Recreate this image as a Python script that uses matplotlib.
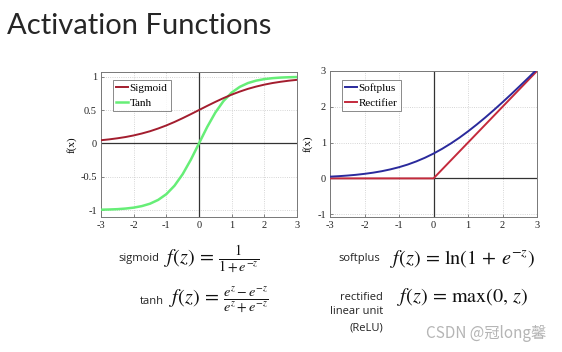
import matplotlib
matplotlib.use("Agg")
import matplotlib.pyplot as plt

W, H = 562, 352
DPI = 100

# ---- data ----
x_vals = [-3, -2.75, -2.5, -2.25, -2, -1.75, -1.5, -1.25, -1, -0.75, -0.5, -0.25,
          0, 0.25, 0.5, 0.75, 1, 1.25, 1.5, 1.75, 2, 2.25, 2.5, 2.75, 3]
sigmoid_vals = [0.047, 0.060, 0.076, 0.095, 0.119, 0.148, 0.182, 0.223, 0.269, 0.321,
                0.378, 0.438, 0.500, 0.562, 0.622, 0.679, 0.731, 0.777, 0.818, 0.852,
                0.881, 0.905, 0.924, 0.940, 0.953]
tanh_vals = [-0.995, -0.992, -0.987, -0.978, -0.964, -0.941, -0.905, -0.848, -0.762,
             -0.635, -0.462, -0.245, 0.0, 0.245, 0.462, 0.635, 0.762, 0.848, 0.905,
             0.941, 0.964, 0.978, 0.987, 0.992, 0.995]
softplus_vals = [0.049, 0.062, 0.079, 0.100, 0.127, 0.160, 0.201, 0.252, 0.313, 0.386,
                 0.474, 0.576, 0.693, 0.826, 0.974, 1.136, 1.313, 1.502, 1.701, 1.910,
                 2.127, 2.350, 2.579, 2.811, 3.049]
relu_x = [-3, 0, 3]
relu_vals = [0, 0, 3]

x_ticks = [-3, -2, -1, 0, 1, 2, 3]
left_yticks = [-1, -0.5, 0, 0.5, 1]
left_yticklabels = ["-1", "-0.5", "0", "0.5", "1"]
right_yticks = [-1, 0, 1, 2, 3]

title_text = "Activation Functions"
watermark = "CSDN @冠long馨"

# ---- figure ----
fig = plt.figure(figsize=(W / DPI, H / DPI), dpi=DPI)
fig.patch.set_facecolor("white")
plt.rcParams["mathtext.fontset"] = "stix"

def fx(px):
    return px / W

def fy(py):
    return 1 - py / H

serif = "Liberation Serif"

def style_axes(ax, xlim, ylim, yticks, yticklabels):
    ax.set_xlim(*xlim)
    ax.set_ylim(*ylim)
    ax.set_xticks(x_ticks)
    ax.set_xticklabels([str(t) for t in x_ticks], family=serif, fontsize=7.5)
    ax.set_yticks(yticks)
    ax.set_yticklabels(yticklabels, family=serif, fontsize=7.5)
    ax.tick_params(direction="in", length=2, width=0.5, pad=3, colors="#555555",
                   labelcolor="#222222")
    ax.grid(True, linestyle=":", color="#c8c8c8", linewidth=0.6, zorder=0.5)
    for s in ax.spines.values():
        s.set_color("#777777")
        s.set_linewidth(0.7)
    ax.axhline(0, color="#333333", linewidth=0.9, zorder=2)
    ax.axvline(0, color="#333333", linewidth=0.9, zorder=2)
    ax.set_ylabel("f(x)", family=serif, fontsize=8, labelpad=3)

def style_legend(leg):
    leg.get_frame().set_edgecolor("#555555")
    leg.get_frame().set_linewidth(0.6)

leg_kw = dict(loc="upper left", prop={"family": serif, "size": 8}, frameon=True,
              fancybox=False, handlelength=1.1, handletextpad=0.12, borderpad=0.3,
              labelspacing=0.45, borderaxespad=0)

# left axes
ax1 = fig.add_axes([fx(101), fy(216.7), (297 - 101) / W, 145 / H])
style_axes(ax1, (-3, 3), (-1.1, 1.075), left_yticks, left_yticklabels)
ax1.plot(x_vals, sigmoid_vals, color="#a31d2e", lw=1.4, label="Sigmoid", zorder=4)
ax1.plot(x_vals, tanh_vals, color="#66ee77", lw=1.8, label="Tanh", zorder=3)
leg1 = ax1.legend(bbox_to_anchor=(0.06, 0.945), **leg_kw)
style_legend(leg1)

# right axes
ax2 = fig.add_axes([fx(330), fy(216.7), (537 - 330) / W, 145.7 / H])
style_axes(ax2, (-3, 3), (-1.07, 3), right_yticks, [str(t) for t in right_yticks])
ax2.plot(x_vals, softplus_vals, color="#2a2a9c", lw=1.4, label="Softplus", zorder=4)
ax2.plot(relu_x, relu_vals, color="#c42a3c", lw=1.4, label="Rectifier", zorder=3)
leg2 = ax2.legend(bbox_to_anchor=(0.056, 0.94), **leg_kw)
style_legend(leg2)

# title
fig.text(fx(7), fy(26), title_text, family="Lato", fontsize=21, color="#262626",
         va="center", ha="left")

# formulas
small = dict(family="Open Sans", fontsize=8, color="#222222")
fsz = 14.5
fig.text(fx(159), fy(259), "sigmoid", ha="right", va="center", **small)
fig.text(fx(164), fy(260), r"$f(z)\,=\,\frac{1}{1+e^{-z}}$", ha="left", va="center",
         fontsize=fsz, color="#111111")
fig.text(fx(164), fy(302), "tanh", ha="right", va="center", **small)
fig.text(fx(169), fy(300), r"$f(z)\,=\,\frac{e^{z}-e^{-z}}{e^{z}+e^{-z}}$", ha="left",
         va="center", fontsize=fsz, color="#111111")
fig.text(fx(380), fy(259), "softplus", ha="right", va="center", **small)
fig.text(fx(390), fy(259), r"$f(z)\,=\,\mathrm{ln}(1\,+\,e^{-z})$", ha="left", va="center",
         fontsize=fsz, color="#111111")
fig.text(fx(383), fy(297), "rectified", ha="right", va="center", **small)
fig.text(fx(383), fy(312), "linear unit", ha="right", va="center", **small)
fig.text(fx(383), fy(328), "(ReLU)", ha="right", va="center", **small)
fig.text(fx(397), fy(297), r"$f(z)\,=\,\mathrm{max}(0,\,z)$", ha="left", va="center",
         fontsize=fsz, color="#111111")

# watermark
fig.text(fx(426), fy(334), watermark, family=["Noto Sans CJK SC", "DejaVu Sans"],
         fontsize=11, color="#b5b5b5", ha="left", va="center")

fig.savefig("out.png", dpi=DPI, facecolor="white")
